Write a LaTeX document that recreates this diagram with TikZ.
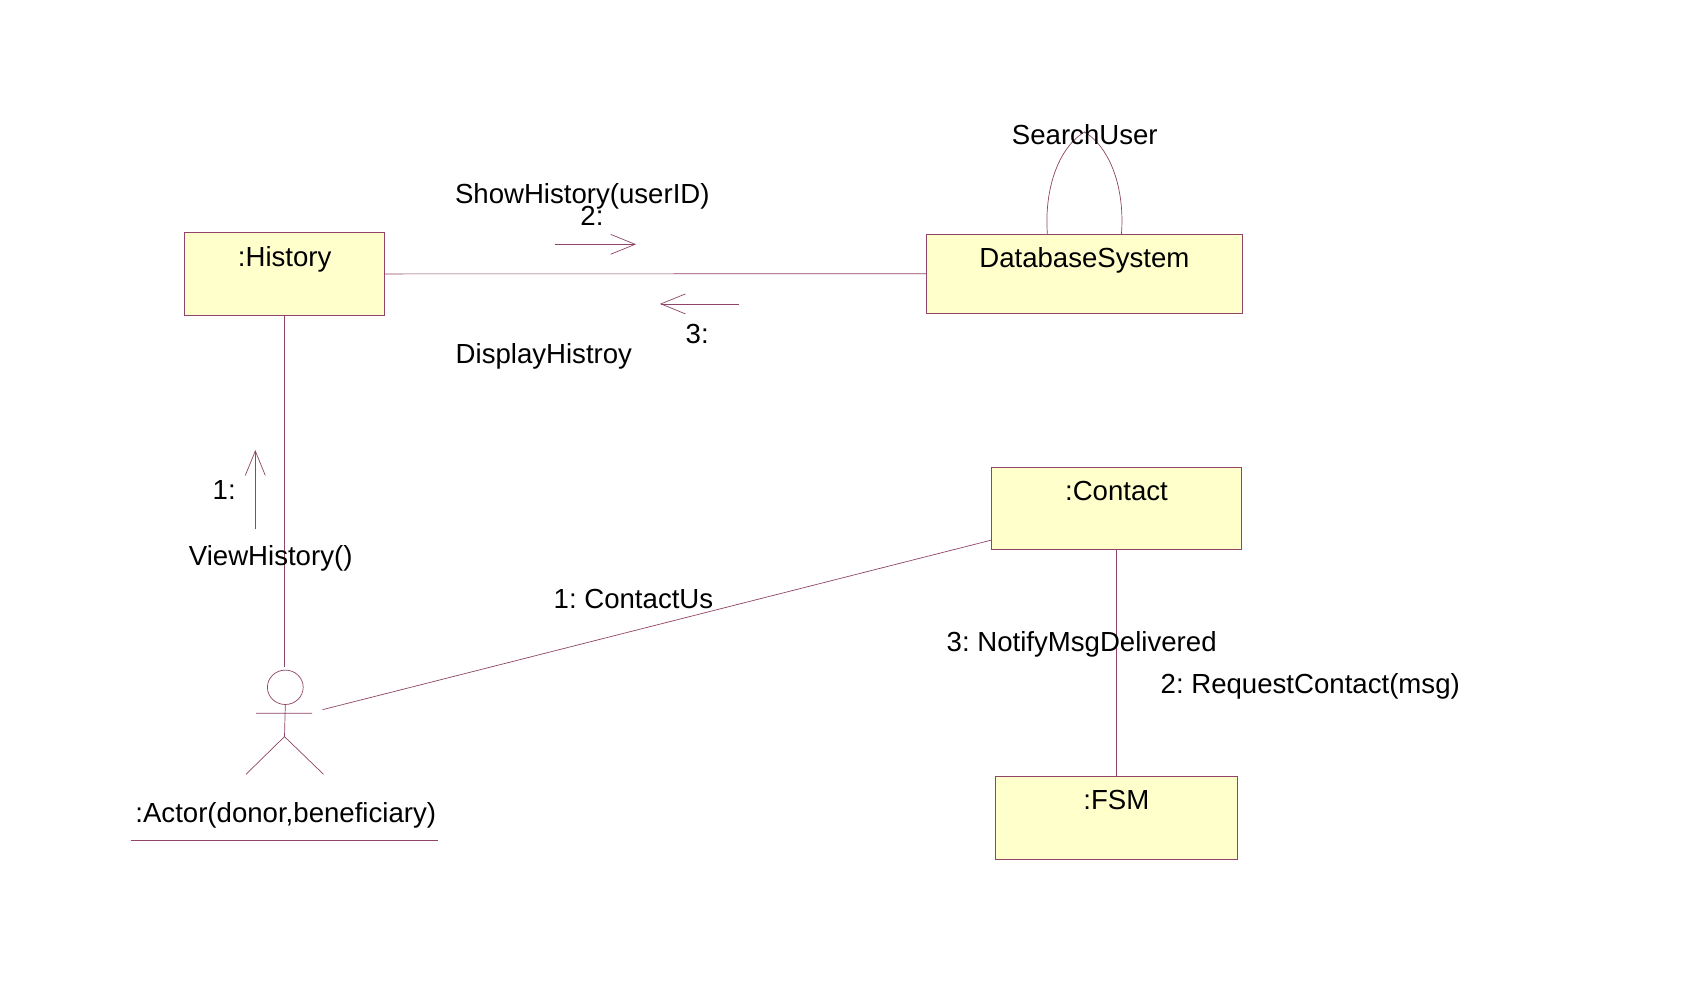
\documentclass[tikz,border=0pt]{standalone}
\usepackage{fontspec}
\setmainfont{Liberation Sans}
\usetikzlibrary{arrows.meta,shapes.geometric}
\definecolor{umlline}{HTML}{8F4468}
\definecolor{umlfill}{HTML}{FFFFCC}
\tikzset{
  ubox/.style n args={4}{draw=umlline,fill=umlfill,line width=0.8pt,rectangle,inner sep=0pt,
     minimum width=#1pt,text height=#3pt,text depth=#4pt,minimum height=#2pt},
  conn/.style={draw=umlline,line width=0.7pt},
  msg/.style={draw=umlline,line width=0.7pt,-{Straight Barb[length=24.5pt,width=20pt,line width=0.7pt]}},
  lbl/.style={anchor=base west,inner sep=0pt,text=black},
}
\begin{document}
\frenchspacing
\begin{tikzpicture}[x=1pt,y=-1pt,every node/.append style={font=\fontsize{27.6}{32}\selectfont\frenchspacing}]
\useasboundingbox (0,0) rectangle (1700,1001);
\fill[white] (0,0) rectangle (1700,1001);
% objects
\node[ubox={200}{83.2}{33.7}{49.5}] (hist) at (284.7,273.9) {:History};
\node[ubox={315.8}{79}{33.4}{45.6}] (db) at (1084.4,273.8) {DatabaseSystem};
\node[ubox={249.5}{82.4}{33.2}{49.2}] (contact) at (1116.5,508.5) {:Contact};
\node[ubox={241.1}{82.7}{33.7}{49}] (fsm) at (1116.4,817.6) {:FSM};
% actor
\node[draw=umlline,line width=0.7pt,ellipse,minimum width=35.8pt,minimum height=34.4pt,inner sep=0pt] (head) at (285.3,687.3) {};
\coordinate (armL) at (256,713.3);
\coordinate (armR) at (312,713.3);
\coordinate (hip) at (284.5,736.6);
\coordinate (legL) at (246,774.3);
\coordinate (legR) at (323.5,774.3);
\coordinate (ulL) at (130.6,840);
\coordinate (ulR) at (438,840);
\draw[conn] (head.south) -- (hip) (armL) -- (armR) (legL) -- (hip) -- (legR);
\draw[conn] (ulL) -- (ulR);
\node[lbl] (actorlbl) at (135.2,822.6) {:Actor(donor,beneficiary)};
% links
\coordinate (histActor) at (284.7,666.7);
\coordinate (actorLink) at (322.4,709.7);
\coordinate (contactIn) at (991.8,540);
\draw[conn] (hist.east) -- (db.west);
\draw[conn] (hist.south) -- (histActor);
\draw[conn] (actorLink) -- (contactIn);
\draw[conn] (contact.south) -- (fsm.north);
% self loop
\coordinate (loopA) at (1047.4,234.3);
\coordinate (loopB) at (1121.4,234.3);
\coordinate (loopT) at (1084.5,132);
\draw[conn] (loopA) .. controls (1044,190) and (1058,148) .. (loopT)
            .. controls (1111,148) and (1125,190) .. (loopB);
% message arrows
\coordinate (m2a) at (555,244.3);
\coordinate (m2b) at (636,244.3);
\coordinate (m3a) at (739,303.9);
\coordinate (m3b) at (660,303.9);
\coordinate (m1a) at (255.3,529);
\coordinate (m1b) at (255.3,450);
\draw[msg] (m2a) -- (m2b);
\draw[msg] (m3a) -- (m3b);
\draw[msg] (m1a) -- (m1b);
% labels
\node[lbl] (t1) at (454.8,203) {ShowHistory(userID)};
\node[lbl] (t2) at (580.2,225) {2:};
\node[lbl] (t3) at (685.5,343.7) {3:};
\node[lbl] (t4) at (455.5,363) {DisplayHistroy};
\node[lbl] (t5) at (212.5,499.5) {1:};
\node[lbl] (t6) at (188.7,565.5) {ViewHistory()};
\node[lbl] (t7) at (553.5,608.7) {1: ContactUs};
\node[lbl] (t8) at (1011.7,144.5) {SearchUser};
\node[lbl] (t9) at (946.5,651.5) {3: NotifyMsgDelivered};
\node[lbl] (t10) at (1160.5,693.5) {2: RequestContact(msg)};
\end{tikzpicture}
\end{document}
